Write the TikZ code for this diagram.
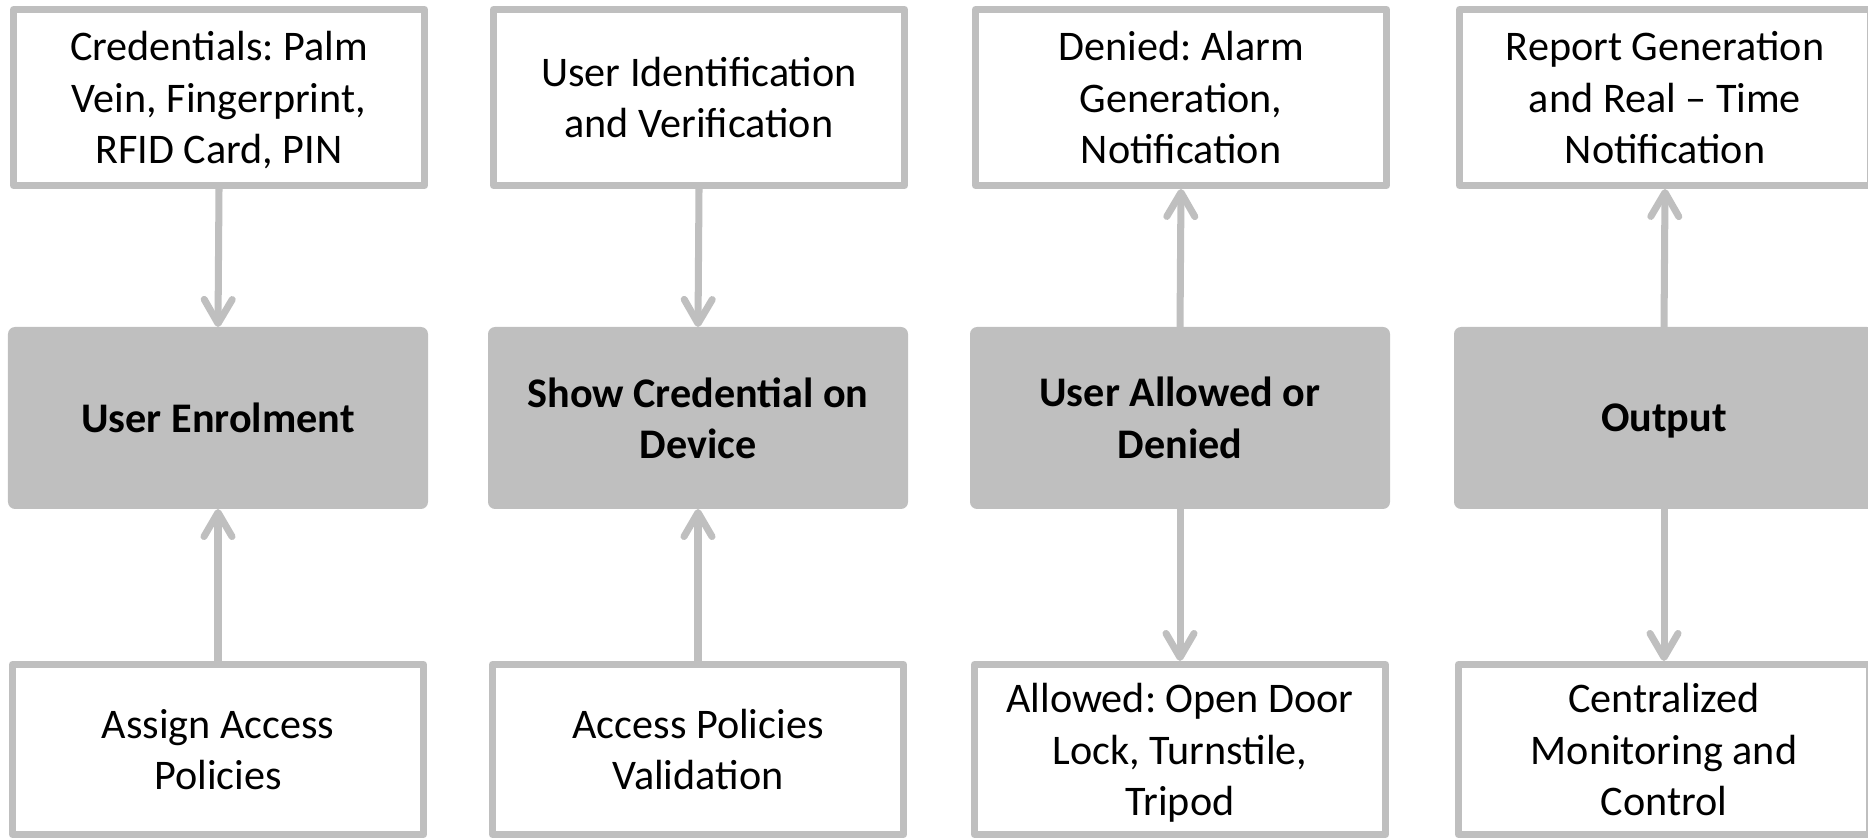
\documentclass[tikz,border=0pt]{standalone}
\usepackage{fontspec}
\setmainfont{Carlito}
\frenchspacing
\usetikzlibrary{arrows.meta}
\definecolor{boxgray}{RGB}{191,191,191}
\tikzset{
  infobox/.style={draw=boxgray, line width=2pt, line join=round, fill=white,
    minimum width=4.11cm, align=center, text depth=0pt,
    font=\fontsize{12}{14.6}\selectfont},
  mainbox/.style={fill=boxgray, rounded corners=2pt, outer sep=0pt,
    minimum width=4.2cm, minimum height=1.82cm, align=center,
    font=\fontsize{12}{14.6}\selectfont\bfseries},
  flow/.style={draw=boxgray, line width=2pt,
    -{Straight Barb[length=2.4mm,width=2.8mm,round]}}
}
\begin{document}
\begin{tikzpicture}
  \useasboundingbox (0,0) rectangle (18.68,-8.38);
  % Main steps
  \node[mainbox] (enrol) at (2.18,-4.18) {User Enrolment};
  \node[mainbox] (show) at (6.98,-4.18) {Show Credential on\\Device};
  \node[mainbox] (decide) at (11.80,-4.18) {User Allowed or\\Denied};
  \node[mainbox, text depth=0pt] (output) at (16.64,-4.18) {Output};
  % Upper boxes
  \node[infobox, minimum height=1.76cm] (cred) at (2.19,-0.975) {Credentials: Palm\\Vein, Fingerprint,\\RFID Card, PIN};
  \node[infobox, minimum height=1.76cm] (ident) at (6.99,-0.975) {User Identification\\and Verification};
  \node[infobox, minimum height=1.76cm] (denied) at (11.81,-0.975) {Denied: Alarm\\Generation,\\Notification};
  \node[infobox, minimum height=1.76cm] (report) at (16.65,-0.975) {Report Generation\\and Real -- Time\\Notification};
  % Lower boxes
  \node[infobox, minimum height=1.70cm] (assign) at (2.18,-7.495) {Assign Access\\Policies};
  \node[infobox, minimum height=1.70cm] (valid) at (6.98,-7.495) {Access Policies\\Validation};
  \node[infobox, minimum height=1.70cm] (allowed) at (11.80,-7.495) {Allowed: Open Door\\Lock, Turnstile,\\Tripod};
  \node[infobox, minimum height=1.70cm] (monitor) at (16.64,-7.495) {Centralized\\Monitoring and\\Control};
  % Connectors
  \draw[flow] (cred.south) -- (enrol.north);
  \draw[flow] (assign.north) -- (enrol.south);
  \draw[flow] (ident.south) -- (show.north);
  \draw[flow] (valid.north) -- (show.south);
  \draw[flow] (decide.north) -- (denied.south);
  \draw[flow] (decide.south) -- (allowed.north);
  \draw[flow] (output.north) -- (report.south);
  \draw[flow] (output.south) -- (monitor.north);
\end{tikzpicture}
\end{document}
